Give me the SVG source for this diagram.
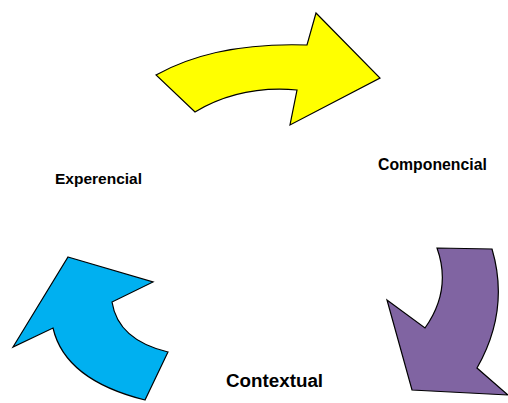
<svg xmlns="http://www.w3.org/2000/svg" width="508" height="403" viewBox="0 0 508 403">
<style>
.arr{stroke:#000;stroke-width:1.2;stroke-linejoin:miter}
.lbl{font-family:"Liberation Sans",Arial,sans-serif;font-weight:bold;fill:#000}
</style>
<rect width="508" height="403" fill="#fff"/>
<g id="connectors">
<path id="arrow-yellow" class="arr" fill="#FFFF00" d="M156,75 Q215,42 307,45 L316,13 L380,78 L290,125 L297,90 Q240,85 195,112 Z"/>
<path id="arrow-purple" class="arr" fill="#8064A2" d="M437,248 L492,249 Q510,310 477,368 L508,395 L412,390 L387,300 L425,328 Q452,290 437,248 Z"/>
<path id="arrow-blue" class="arr" fill="#00B0F0" d="M68,257 L153,282 L112,302 Q118,340 168,352 L145,400 Q65,380 53,328 L13,347 Z"/>
</g>
<g id="node-experencial"><text class="lbl" x="55" y="184" font-size="15.5">Experencial</text></g>
<g id="node-componencial"><text class="lbl" x="378" y="170" font-size="15.8">Componencial</text></g>
<g id="node-contextual"><text class="lbl" x="226" y="387" font-size="18.8">Contextual</text></g>
</svg>
